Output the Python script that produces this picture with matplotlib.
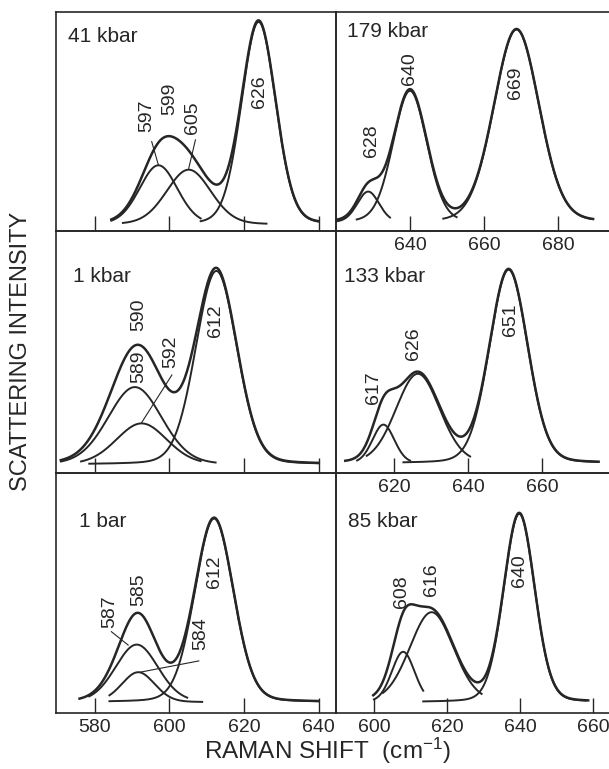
import matplotlib
matplotlib.use('Agg')
import matplotlib.pyplot as plt
import numpy as np

plt.rcParams.update({'font.family': 'Liberation Sans', 'mathtext.default': 'regular'})

INK = '#262626'
ETA = 0.12   # lorentzian share of the band shape

# one entry per panel: top-left, top-right, mid-left, mid-right, bottom-left, bottom-right
titles = ['41 kbar', '179 kbar', '1 kbar', '133 kbar', '1 bar', '85 kbar']
title_pos = [(0.043, 0.886), (0.040, 0.913), (0.061, 0.81),
             (0.029, 0.814), (0.082, 0.796), (0.044, 0.796)]
baselines = [0.03, 0.04, 0.035, 0.04, 0.045, 0.045]

# fitted bands: (centre, height, half width, drawn from, drawn to)
bands_41k = [(597.1, 0.27, 6.0, 584.5, 608.4),
             (605.2, 0.25, 7.0, 587.6, 626.0),
             (623.9, 0.925, 5.4, 608.4, 640.0)]
bands_179k = [(628.7, 0.14, 3.5, 620.5, 634.6),
              (640.0, 0.60, 5.4, 625.6, 652.6),
              (668.8, 0.88, 7.2, 649.0, 689.0)]
bands_1k = [(590.8, 0.32, 8.5, 571.0, 612.4),
            (592.6, 0.17, 8.0, 576.4, 608.4),
            (612.6, 0.80, 6.5, 578.6, 640.0)]
bands_133k = [(617.1, 0.16, 3.5, 610.0, 624.3),
              (626.4, 0.37, 7.0, 612.6, 640.5),
              (650.9, 0.80, 6.1, 622.5, 675.0)]
bands_1b = [(591.3, 0.24, 6.75, 578.6, 604.8),
            (591.7, 0.125, 5.2, 584.0, 608.8),
            (612.0, 0.765, 6.1, 584.0, 639.9)]
bands_85k = [(608.0, 0.21, 3.7, 600.0, 613.5),
             (615.8, 0.375, 7.1, 602.5, 629.5),
             (639.8, 0.785, 5.0, 613.5, 658.0)]
bands = [bands_41k, bands_179k, bands_1k, bands_133k, bands_1b, bands_85k]

# measured envelope span
env_span = [(584.5, 639.7), (620.2, 689.5), (571.0, 640.0),
            (606.8, 675.2), (576.0, 639.9), (599.8, 658.7)]

# peak labels (text, x, y)
labels = [
    [('597', 594.0, 0.526), ('599', 600.0, 0.603), ('605', 606.3, 0.519), ('626', 624.1, 0.636)],
    [('628', 629.6, 0.412), ('640', 640.0, 0.743), ('669', 668.6, 0.677)],
    [('590', 591.7, 0.653), ('589', 591.7, 0.439), ('592', 600.3, 0.501), ('612', 612.4, 0.629)],
    [('617', 614.4, 0.354), ('626', 625.2, 0.536), ('651', 651.4, 0.632)],
    [('587', 584.1, 0.422), ('585', 591.7, 0.5125), ('584', 608.4, 0.332), ('612', 612.0, 0.589)],
    [('608', 607.6, 0.505), ('616', 615.8, 0.554), ('640', 640.0, 0.593)],
]
# leader lines (x0, y0, x1, y1)
leaders = [
    [(595.3, 0.408, 597.1, 0.301), (607.0, 0.416, 605.2, 0.286)],
    [],
    [(600.7, 0.405, 592.6, 0.208)],
    [],
    [(584.5, 0.339, 589.0, 0.283), (607.9, 0.217, 592.2, 0.17)],
    [],
]

xlims = [(569.7, 644.6), (620.0, 693.8), (569.7, 644.6),
         (604.3, 678.0), (569.7, 644.6), (589.6, 664.4)]
xticks = [[580, 600, 620, 640], [640, 660, 680], [580, 600, 620, 640],
          [620, 640, 660], [580, 600, 620, 640], [600, 620, 640, 660]]
show_ticklabels = [False, True, False, True, True, True]

W, H = 609, 769
col_x = [(56, 336), (336, 609)]
row_y = [(12, 231), (231, 473), (473, 713)]


def band(x, c, h, w):
    r = ((x - c) / w) ** 2
    return h * ((1 - ETA) * np.exp(-np.log(2) * r) + ETA / (1 + r))


fig = plt.figure(figsize=(W / 100, H / 100), dpi=100)

for i in range(6):
    (x0, x1), (y0, y1) = col_x[i % 2], row_y[i // 2]
    ax = fig.add_axes([x0 / W, 1 - y1 / H, (x1 - x0) / W, (y1 - y0) / H])
    ax.set_facecolor('none')
    ax.set_xlim(*xlims[i])
    ax.set_ylim(0, 1)
    ax.set_yticks([])
    ax.set_xticks(xticks[i])
    ax.tick_params(axis='x', direction='in', length=11, width=1.0, pad=4,
                   labelsize=14, colors=INK, labelbottom=show_ticklabels[i])
    for side, sp in ax.spines.items():
        sp.set_color(INK)
        sp.set_linewidth(1.2)
    if i % 2 == 1:
        ax.spines['right'].set_visible(False)

    b = baselines[i]
    xe = np.linspace(*env_span[i], 400)
    total = b + sum(band(xe, c, h, w) for c, h, w, _, _ in bands[i])
    ax.plot(xe, total, color=INK, lw=1.8)
    for c, h, w, xa, xb in bands[i]:
        xs = np.linspace(xa, xb, 300)
        ax.plot(xs, b + band(xs, c, h, w), color=INK, lw=1.4)

    for t, lx, ly in labels[i]:
        ax.text(lx, ly, t, rotation=90, ha='center', va='center', fontsize=14, color=INK)
    for lx0, ly0, lx1, ly1 in leaders[i]:
        ax.plot([lx0, lx1], [ly0, ly1], color=INK, lw=0.8)

    tx, ty = title_pos[i]
    ax.text(tx, ty, titles[i], transform=ax.transAxes, ha='left', va='center',
            fontsize=15, color=INK)

fig.text(21 / W, 1 - 351.7 / H, 'SCATTERING INTENSITY', rotation=90,
         ha='center', va='center', fontsize=17, color=INK)
fig.text(327 / W, 1 - 751 / H, 'RAMAN SHIFT  (cm$^{-1}$)', ha='center', va='center',
         fontsize=17.5, color=INK)

fig.savefig('out.png', dpi=100)
